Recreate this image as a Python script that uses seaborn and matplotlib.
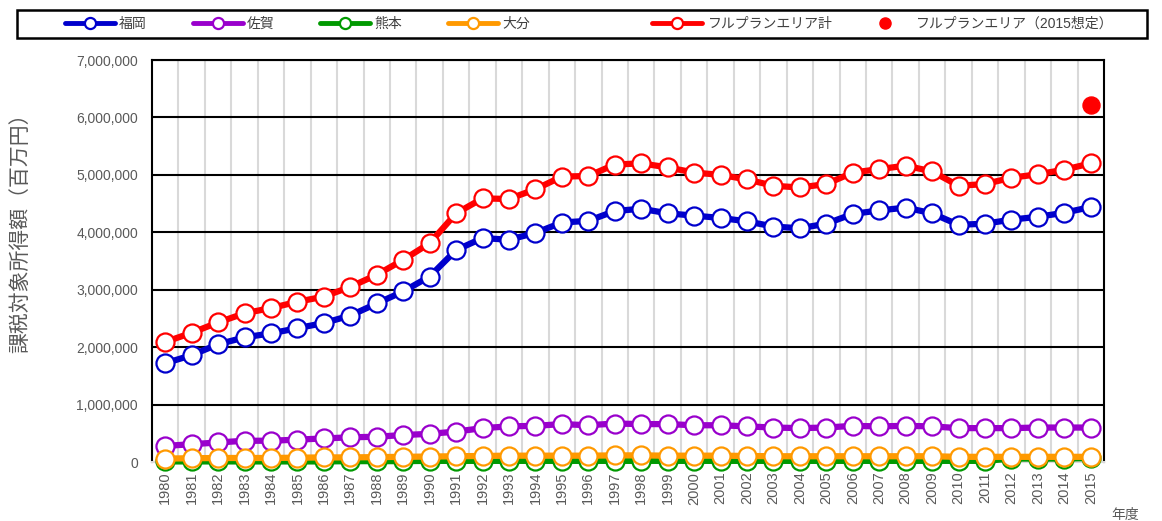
import pandas as pd
import seaborn as sns
import matplotlib.pyplot as plt
from matplotlib.lines import Line2D
from matplotlib.patches import Rectangle
from matplotlib.ticker import FuncFormatter, MultipleLocator

# 課税対象所得額(百万円)、値は百万単位で読み取り
years = list(range(1980, 2016))
fukuoka = [1.72, 1.86, 2.05, 2.17, 2.24, 2.33, 2.42, 2.55, 2.76, 2.97,
           3.23, 3.69, 3.90, 3.87, 3.99, 4.17, 4.20, 4.37, 4.41, 4.33,
           4.29, 4.25, 4.19, 4.10, 4.07, 4.15, 4.32, 4.38, 4.43, 4.33,
           4.13, 4.15, 4.22, 4.27, 4.34, 4.44]
saga = [0.28, 0.31, 0.34, 0.37, 0.37, 0.39, 0.41, 0.43, 0.44, 0.47,
        0.49, 0.53, 0.59, 0.62, 0.63, 0.66, 0.64, 0.67, 0.66, 0.66,
        0.64, 0.64, 0.62, 0.60, 0.59, 0.60, 0.63, 0.62, 0.63, 0.62,
        0.59, 0.59, 0.59, 0.60, 0.60, 0.60]
kumamoto = [0.01, 0.01, 0.01, 0.01, 0.01, 0.01, 0.01, 0.015, 0.015, 0.015,
            0.02, 0.02, 0.02, 0.02, 0.02, 0.02, 0.02, 0.02, 0.02, 0.02,
            0.02, 0.02, 0.02, 0.02, 0.02, 0.02, 0.02, 0.02, 0.02, 0.02,
            0.02, 0.02, 0.06, 0.06, 0.06, 0.07]
oita = [0.06, 0.065, 0.07, 0.07, 0.07, 0.075, 0.08, 0.08, 0.085, 0.09,
        0.095, 0.10, 0.105, 0.11, 0.11, 0.11, 0.11, 0.115, 0.115, 0.11,
        0.11, 0.11, 0.105, 0.10, 0.10, 0.10, 0.10, 0.10, 0.10, 0.10,
        0.09, 0.09, 0.09, 0.09, 0.09, 0.09]
total = [2.09, 2.25, 2.43, 2.59, 2.68, 2.79, 2.88, 3.05, 3.26, 3.52,
         3.81, 4.33, 4.59, 4.58, 4.75, 4.97, 4.98, 5.18, 5.20, 5.13,
         5.04, 5.00, 4.92, 4.81, 4.78, 4.84, 5.04, 5.10, 5.16, 5.06,
         4.81, 4.84, 4.95, 5.01, 5.09, 5.20]
assumed_year = [2015]
assumed_total = [6.21]

names = ["福岡", "佐賀", "熊本", "大分", "フルプランエリア計"]
colors = ["#0000cc", "#9900cc", "#009900", "#ff9900", "#ff0000"]
series = [fukuoka, saga, kumamoto, oita, total]

sns.set_theme(style="white")
plt.rcParams["font.family"] = ["Liberation Sans", "Noto Sans CJK JP", "DejaVu Sans"]

fig = plt.figure(figsize=(11.62, 5.21), dpi=100)
ax = fig.add_axes([152 / 1162, 59 / 521, (1104 - 152) / 1162, (462 - 60) / 521])

for name, col, vals in zip(names, colors, series):
    df = pd.DataFrame({"year": years, "value": [v * 1e6 for v in vals]})
    sns.lineplot(data=df, x="year", y="value", ax=ax, color=col, lw=4.5,
                 marker="o", markersize=13, markerfacecolor="white",
                 markeredgecolor=col, markeredgewidth=1.6, clip_on=False,
                 zorder=3)

ax.scatter(assumed_year, [v * 1e6 for v in assumed_total], s=150,
           color="#ff0000", zorder=4, clip_on=False)

ax.set_xlim(1979.5, 2015.5)
ax.set_ylim(0, 7e6)
ax.yaxis.set_major_locator(MultipleLocator(1e6))
ax.yaxis.set_major_formatter(FuncFormatter(lambda v, p: f"{int(v):,}"))
ax.set_xticks(years)
ax.set_xticklabels([str(y) for y in years], rotation=90)
ax.set_xticks([y + 0.5 for y in years[:-1]], minor=True)
ax.grid(axis="y", which="major", color="black", lw=1.5, zorder=1)
ax.grid(axis="x", which="minor", color="#d9d9d9", lw=1.5, zorder=1)
ax.grid(axis="x", which="major", visible=False)
ax.tick_params(axis="both", which="both", length=0, colors="#595959",
               labelsize=10)
ax.tick_params(axis="x", labelsize=10.5)
ax.tick_params(axis="y", pad=10)
ax.tick_params(axis="x", pad=7)
ax.set_xlabel("")
ax.set_ylabel("")
for s in ["left", "right", "top"]:
    ax.spines[s].set_color("black")
    ax.spines[s].set_linewidth(1.5)
ax.spines["bottom"].set_color("#d9d9d9")
ax.spines["bottom"].set_linewidth(1.5)

fig.text(20 / 1162, 1 - 228 / 521, "課税対象所得額（百万円）", fontsize=15,
         color="#595959", rotation=90, ha="center", va="center")
fig.text(1125 / 1162, 1 - 515 / 521, "年度", fontsize=10, color="#595959",
         ha="center", va="center")

# 凡例
fig.add_artist(Rectangle((17 / 1162, 1 - 38 / 521), 1130 / 1162, 28 / 521,
                         transform=fig.transFigure, fill=False,
                         edgecolor="black", lw=1.8))
handles = [Line2D([], [], color=c, lw=3.5, marker="o", markersize=8,
                  markerfacecolor="white", markeredgecolor=c,
                  markeredgewidth=1.6) for c in colors]
leg_a = fig.legend(handles[:4], names[:4], ncol=4, frameon=False,
                   loc="center left", bbox_to_anchor=(58 / 1162, 1 - 24 / 521),
                   fontsize=10, handlelength=3.6, handletextpad=0.3,
                   columnspacing=3.3, borderpad=0)
dot = Line2D([], [], color="#ff0000", lw=0, marker="o", markersize=8)
leg_b = fig.legend([handles[4], dot], [names[4], "フルプランエリア（2015想定）"],
                   ncol=2, frameon=False, loc="center left",
                   bbox_to_anchor=(645 / 1162, 1 - 24 / 521), fontsize=10,
                   handlelength=3.6, handletextpad=0.4, columnspacing=2.0,
                   borderpad=0)
for leg in (leg_a, leg_b):
    for t in leg.get_texts():
        t.set_color("#404040")

fig.savefig("out.png", dpi=100)
